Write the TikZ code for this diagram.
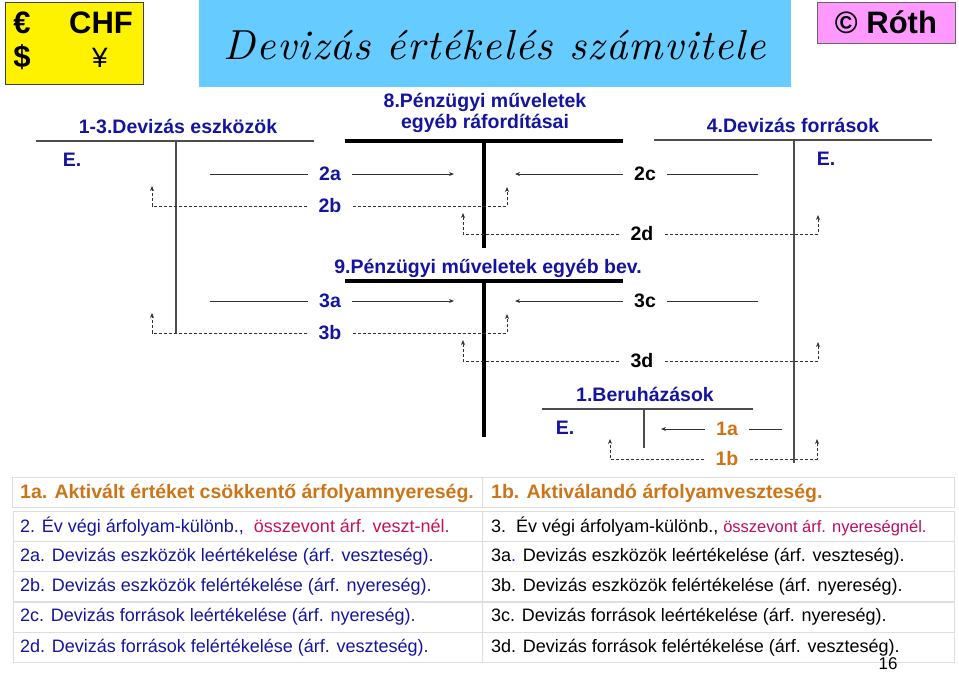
\documentclass[tikz,border=0pt]{standalone}
\usepackage{fontspec}
\setmainfont{Liberation Sans}
\newfontfamily\calli[LetterSpace=3]{lmroman10-italic.otf}
\usetikzlibrary{arrows.meta}

\definecolor{ink}{RGB}{20,20,160}
\definecolor{rust}{RGB}{204,116,24}
\definecolor{berry}{RGB}{200,16,90}
\definecolor{sky}{RGB}{102,204,255}
\definecolor{lilac}{RGB}{255,153,255}
\definecolor{gridgray}{RGB}{222,222,222}

\tikzset{
  >={Stealth[length=5pt,width=4pt]},
  acct/.style={font=\bfseries\fontsize{19.5}{21}\selectfont, text=ink, inner sep=1pt},
  rowlbl/.style={font=\bfseries\fontsize{19.5}{21}\selectfont, inner xsep=11pt, inner ysep=1pt},
  money/.style={font=\bfseries\fontsize{31}{33}\selectfont, inner sep=0pt},
  flowl/.style={line width=0.8pt, black!80},
  dflowl/.style={flowl, dash pattern=on 3pt off 2pt},
  tline/.style={line width=1.2pt, black!70},
  tthick/.style={line width=3.5pt, black},
  celltext/.style={font=\fontsize{18}{20}\selectfont, anchor=west, inner sep=0pt, text=ink},
  cellhead/.style={celltext, font=\bfseries\fontsize{19.5}{21}\selectfont, text=rust},
}

\begin{document}
\begin{tikzpicture}[x=1pt, y=-1pt]
  \useasboundingbox (0,0) rectangle (959,675);

  % Currency box
  \draw[fill=yellow, draw=black!75, line width=1pt] (5,2) rectangle (143,84);
  \node[money] (eur) at (22,23) {€};
  \node[money] (chf) at (101,23) {CHF};
  \node[money] (usd) at (22,57) {\$};
  \node[money, font=\fontsize{28}{30}\selectfont] (yen) at (100,58) {¥};

  % Title
  \fill[sky] (199,0) rectangle (791,87);
  \node (title) at (495,45) {\calli\fontsize{42}{46}\selectfont Devizás értékelés számvitele};

  % Author box
  \draw[fill=lilac, draw=black!60, line width=0.8pt] (817,2) rectangle (955,43);
  \node[font=\bfseries\fontsize{31}{33}\selectfont] (roth) at (886,22) {© Róth};

  % T-accounts
  \node[acct] (eszk) at (178,126) {1-3.Devizás eszközök};
  \draw[tline] (36,141) -- (314,141);
  \draw[tline] (176,141) -- (176,333);
  \node[acct] (eszkE) at (72,160) {E.};

  \node[acct, align=center] (raf) at (485,113) {8.Pénzügyi műveletek\\egyéb ráfordításai};
  \draw[tthick] (345,141) -- (623,141);
  \draw[tthick] (484,141) -- (484,248);

  \node[acct] (forr) at (793,125) {4.Devizás források};
  \draw[tline] (654,140) -- (932,140);
  \draw[tline] (794,140) -- (794,463);
  \node[acct] (forrE) at (826,159) {E.};

  \node[acct] (bev) at (488,268) {9.Pénzügyi műveletek egyéb bev.};
  \draw[tthick] (345,281) -- (623,281);
  \draw[tthick] (484,281) -- (484,437);

  \node[acct] (beru) at (645,394) {1.Beruházások};
  \draw[tline] (542,409) -- (753,409);
  \draw[tline] (644,409) -- (644,448);
  \node[acct] (beruE) at (565,428) {E.};

  % Year-end revaluation entries (2 and 3)
  \foreach \grp/\dy in {2/0, 3/127} {
    \begin{scope}[yshift=-\dy pt]
      \node[rowlbl, text=ink] (l\grp a) at (330,174) {\grp a};
      \node[rowlbl, text=ink] (l\grp b) at (330,206) {\grp b};
      \node[rowlbl] (l\grp c) at (645,174) {\grp c};
      \node[rowlbl] (l\grp d) at (642,234) {\grp d};
      \coordinate (sa\grp) at (210,174);
      \coordinate (ea\grp) at (454,174);
      \coordinate (ub\grp) at (152,186);
      \coordinate (vb\grp) at (507,187);
      \coordinate (sc\grp) at (758,174);
      \coordinate (ec\grp) at (515,174);
      \coordinate (ud\grp) at (463,213);
      \coordinate (wd\grp) at (818,215);
      \draw[flowl] (sa\grp) -- (l\grp a);
      \draw[flowl, ->] (l\grp a) -- (ea\grp);
      \draw[dflowl, ->] (l\grp b) -| (ub\grp);
      \draw[dflowl, ->] (l\grp b) -| (vb\grp);
      \draw[flowl] (sc\grp) -- (l\grp c);
      \draw[flowl, ->] (l\grp c) -- (ec\grp);
      \draw[dflowl, ->] (l\grp d) -| (ud\grp);
      \draw[dflowl, ->] (l\grp d) -| (wd\grp);
    \end{scope}
  }

  % Capitalised exchange differences (1)
  \node[rowlbl, text=rust] (l1a) at (727,429) {1a};
  \node[rowlbl, text=rust] (l1b) at (727,459) {1b};
  \coordinate (s1a) at (782,429);
  \coordinate (e1a) at (661,429);
  \coordinate (u1b) at (610,439);
  \coordinate (w1b) at (817,439);
  \draw[flowl] (s1a) -- (l1a);
  \draw[flowl, ->] (l1a) -- (e1a);
  \draw[dflowl, ->] (l1b) -| (u1b);
  \draw[dflowl, ->] (l1b) -| (w1b);

  % Legend table
  \draw[gridgray, line width=0.8pt] (12,477) rectangle (482,507);
  \draw[gridgray, line width=0.8pt] (482,477) rectangle (954,507);
  \foreach \y in {511,541,571,602,632} {
    \draw[gridgray, line width=0.8pt] (13,\y) rectangle (482,\y+30);
    \draw[gridgray, line width=0.8pt] (482,\y) rectangle (954,\y+30);
  }

  \node[cellhead] (k1a) at (20,493) {1a. Aktivált értéket csökkentő árfolyamnyereség.};
  \node[celltext] (k2) at (20,527) {2. Év végi árfolyam-különb.,\ \ \textcolor{berry}{összevont árf. veszt-nél.}};
  \node[celltext] (k2a) at (20,557) {2a. Devizás eszközök leértékelése (árf. veszteség).};
  \node[celltext] (k2b) at (20,587) {2b. Devizás eszközök felértékelése (árf. nyereség).};
  \node[celltext] (k2c) at (20,617) {2c. Devizás források leértékelése (árf. nyereség).};
  \node[celltext] (k2d) at (20,648) {2d. Devizás források felértékelése (árf. veszteség).};

  \node[cellhead] (k1b) at (491,493) {1b. Aktiválandó árfolyamveszteség.};
  \node[celltext, text=black] (k3) at (491,527) {3.\ \ Év végi árfolyam-különb.,\ {\fontsize{16.5}{18}\selectfont\textcolor{berry!80!violet}{összevont árf. nyereségnél.}}};
  \node[celltext, text=black] (k3a) at (491,557) {3a\textcolor{ink}{.} Devizás eszközök leértékelése (árf. veszteség).};
  \node[celltext, text=black] (k3b) at (491,587) {3b. Devizás eszközök felértékelése (árf. nyereség).};
  \node[celltext, text=black] (k3c) at (491,617) {3c. Devizás források leértékelése (árf. nyereség).};
  \node[celltext, text=black] (k3d) at (491,648) {3d. Devizás források felértékelése (árf. veszteség).};

  \node[font=\fontsize{17}{19}\selectfont, inner sep=1pt] (page) at (888,664) {16};
\end{tikzpicture}
\end{document}
